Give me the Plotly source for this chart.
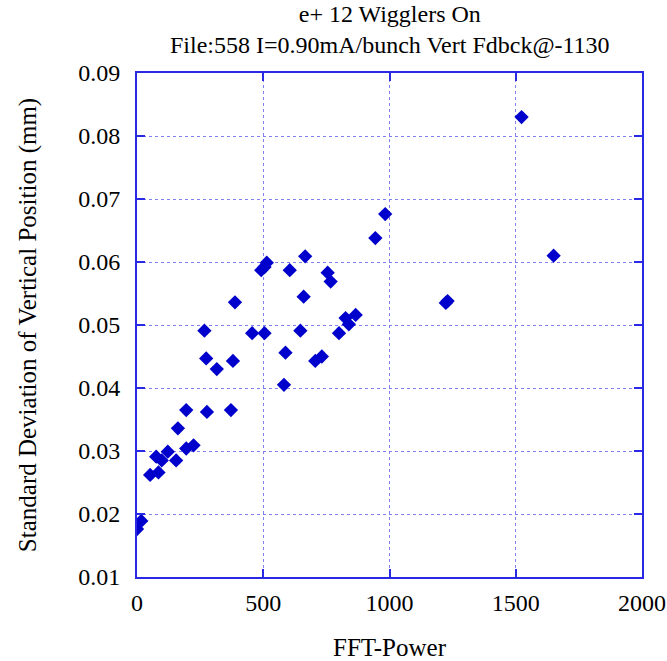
import plotly.graph_objects as go

fft_power = [1523, 1650, 1223, 1230, 983, 944,
             492, 505, 514, 605, 666, 755, 767, 388, 660,
             267, 456, 505, 647, 800, 826, 866, 839,
             274, 316, 380, 588, 706, 732, 582,
             195, 277, 372, 162, 195, 224, 122, 76, 98, 155,
             52, 85, 17, 0]
std_dev = [0.0830, 0.0610, 0.0535, 0.0538, 0.0676, 0.0638,
           0.0587, 0.0592, 0.0599, 0.0587, 0.0609, 0.0583, 0.0569, 0.0536, 0.0545,
           0.0491, 0.0487, 0.0487, 0.0491, 0.0487, 0.0511, 0.0516, 0.0501,
           0.0447, 0.0430, 0.0443, 0.0456, 0.0443, 0.0450, 0.0405,
           0.0365, 0.0362, 0.0365, 0.0336, 0.0304, 0.0309, 0.0299, 0.0291, 0.0285, 0.0285,
           0.0262, 0.0266, 0.0189, 0.0176]

x_ticks = [0, 500, 1000, 1500, 2000]
y_ticks = [0.01, 0.02, 0.03, 0.04, 0.05, 0.06, 0.07, 0.08, 0.09]

font = "Liberation Serif, Times New Roman, serif"
axis_col = "#2a2ae6"
grid_col = "#8080f0"

fig = go.Figure(go.Scatter(
    x=fft_power, y=std_dev, mode="markers",
    marker=dict(symbol="diamond", size=11, color="#0000cc", line=dict(width=0)),
))

fig.update_layout(
    width=667, height=661,
    margin=dict(l=137, r=25, t=73, b=84),
    paper_bgcolor="white", plot_bgcolor="white",
    showlegend=False,
    font=dict(family=font, color="black"),
    annotations=[dict(
        text="e+ 12 Wigglers On<br>File:558 I=0.90mA/bunch Vert Fdbck@-1130",
        xref="paper", yref="paper", x=0.5, y=1.0, yshift=74,
        xanchor="center", yanchor="top", showarrow=False,
        font=dict(family=font, size=24, color="black"),
    )],
)
fig.update_xaxes(
    range=[0, 2000], tickvals=x_ticks, ticktext=[str(v) for v in x_ticks],
    automargin=False,
    showline=True, linecolor=axis_col, linewidth=2, mirror="ticks",
    ticks="inside", ticklen=8, tickcolor=axis_col, tickwidth=2,
    showgrid=True, gridcolor=grid_col, griddash="dot", gridwidth=1,
    zeroline=False, tickfont=dict(size=24, family=font, color="black"),
    ticklabelstandoff=3,
    title=dict(text="FFT-Power", font=dict(size=25, family=font), standoff=24),
)
fig.update_yaxes(
    range=[0.01, 0.09], tickvals=y_ticks, ticktext=[f"{v:.2f}" for v in y_ticks],
    automargin=False,
    showline=True, linecolor=axis_col, linewidth=2, mirror="ticks",
    ticks="inside", ticklen=8, tickcolor=axis_col, tickwidth=2,
    showgrid=True, gridcolor=grid_col, griddash="dot", gridwidth=1,
    zeroline=False, tickfont=dict(size=24, family=font, color="black"),
    ticklabelstandoff=10,
    title=dict(text="Standard Deviation of Vertical Position (mm)",
               font=dict(size=25, family=font), standoff=34),
)

fig.write_html("out.html")
